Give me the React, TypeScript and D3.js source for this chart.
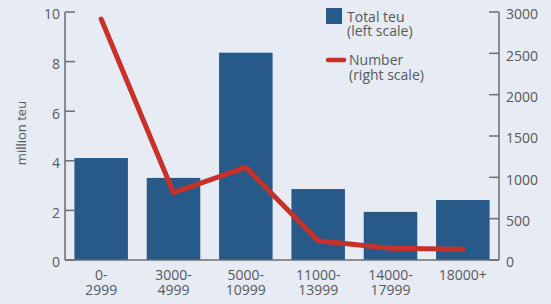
import React from "react";
import * as d3 from "d3";

const categories = ["0-\n2999", "3000-\n4999", "5000-\n10999", "11000-\n13999", "14000-\n17999", "18000+"];
const totalTeu = [4.11, 3.31, 8.36, 2.86, 1.94, 2.42];
const numberShips = [2915, 814, 1121, 233, 142, 129];
const leftTicks = [0, 2, 4, 6, 8, 10];
const rightTicks = [0, 500, 1000, 1500, 2000, 2500, 3000];

const W = 551, H = 304;
const left = 65, right = 499, top = 12, bottom = 260;
const BG = "#e6ebf4";
const BAR = "#285a89";
const RED = "#c8302a";
const TXT = "#58595b";
const AXIS = "#6d6e71";
const FONT = "'Open Sans', 'Noto Sans', sans-serif";

export default function App() {
  const x = d3.scaleBand<string>().domain(categories).range([left, right]).paddingInner(0.26).paddingOuter(0.13);
  const yL = d3.scaleLinear().domain([0, 10]).range([bottom, top]);
  const yR = d3.scaleLinear().domain([0, 3000]).range([bottom, top]);
  const line = d3.line<number>()
    .x((_, i) => (x(categories[i]) as number) + x.bandwidth() / 2)
    .y((d) => yR(d));

  return (
    <svg width={W} height={H} style={{ position: "absolute", left: 0, top: 0, display: "block" }} fontFamily={FONT}>
      <rect x={0} y={0} width={W} height={H} fill={BG} />
      {categories.map((c, i) => (
        <rect key={c} x={x(c)} y={yL(totalTeu[i])} width={x.bandwidth()} height={bottom - yL(totalTeu[i])} fill={BAR} />
      ))}
      <path d={line(numberShips) || ""} fill="none" stroke={RED} strokeWidth={5} strokeLinejoin="round" strokeLinecap="round" />
      {/* axes */}
      <line x1={left} x2={left} y1={top} y2={bottom} stroke={AXIS} strokeWidth={1.5} />
      <line x1={right} x2={right} y1={top} y2={bottom} stroke={AXIS} strokeWidth={1.5} />
      <line x1={left} x2={right} y1={bottom} y2={bottom} stroke={AXIS} strokeWidth={1.5} />
      {leftTicks.map((t) => (
        <g key={"l" + t}>
          <line x1={left} x2={left + 10} y1={yL(t)} y2={yL(t)} stroke={AXIS} strokeWidth={1.5} />
          <text x={left - 5} y={yL(t)} dy="0.53em" textAnchor="end" fontSize={14} fill={TXT}>{t}</text>
        </g>
      ))}
      {rightTicks.map((t) => (
        <g key={"r" + t}>
          <line x1={right - 10} x2={right} y1={yR(t)} y2={yR(t)} stroke={AXIS} strokeWidth={1.5} />
          <text x={right + 7} y={yR(t)} dy="0.53em" textAnchor="start" fontSize={14} fill={TXT}>{t}</text>
        </g>
      ))}
      {categories.map((c) => {
        const cx = (x(c) as number) + x.bandwidth() / 2;
        return c.split("\n").map((s, j) => (
          <text key={"c" + c + j} x={cx} y={280 + j * 15} textAnchor="middle" fontSize={14} fill={TXT}>{s}</text>
        ));
      })}
      <text transform={`translate(26,133) rotate(-90)`} textAnchor="middle" fontSize={13} fill={TXT}>million teu</text>
      {/* legend */}
      <rect x={326} y={8} width={16} height={16} fill={BAR} />
      <text x={347} y={22} fontSize={14} fill={TXT}>Total teu</text>
      <text x={347} y={36} fontSize={14} fill={TXT}>(left scale)</text>
      <line x1={328} x2={344} y1={60} y2={60} stroke={RED} strokeWidth={4.5} strokeLinecap="round" />
      <text x={349} y={65} fontSize={14} fill={TXT}>Number</text>
      <text x={349} y={80} fontSize={14} fill={TXT}>(right scale)</text>
    </svg>
  );
}
